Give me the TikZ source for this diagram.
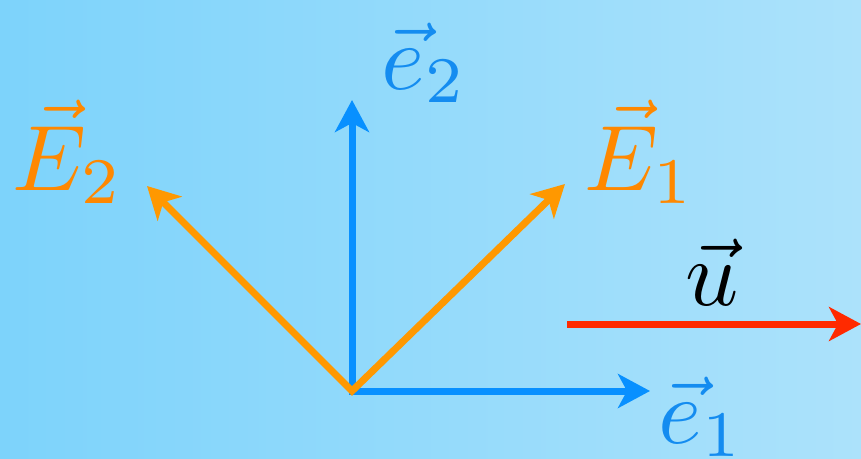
\documentclass[tikz,border=0pt]{standalone}
\usetikzlibrary{arrows.meta}
\definecolor{bgL}{RGB}{125,211,251}
\definecolor{bgR}{RGB}{172,226,251}
\definecolor{eblue}{RGB}{8,144,255}
\definecolor{eorange}{RGB}{255,152,0}
\definecolor{ured}{RGB}{255,42,0}
\definecolor{torange}{RGB}{255,136,0}
\definecolor{tblue}{RGB}{20,140,240}
\tikzset{
  tip/.tip={Stealth[length=32pt,width=34pt,inset=9pt]},
  vec/.style={line width=7pt,-tip},
  vv/.style={line width=7pt,tip-tip,line join=miter},
  lab/.style={anchor=base west,inner sep=0pt,font=\normalsize,scale=9.3}
}
\begin{document}
\begin{tikzpicture}[x=1pt,y=-1pt]
\useasboundingbox (0,0) rectangle (861,458);
\shade[left color=bgL,right color=bgR] (0,0) rectangle (861,458);
\coordinate (O) at (352,391);
\coordinate (e1) at (650,391);
\coordinate (e2) at (352,100);
\coordinate (E1) at (565,184);
\coordinate (E2) at (147,186);
\coordinate (u0) at (567,324);
\coordinate (u1) at (861,324);
\draw[vv,eblue] (e2) -- (O) -- (e1);
\draw[vv,eorange] (E2) -- (O) -- (E1);
\draw[vec,ured] (u0) -- (u1);
\node[lab,text=torange] (lE1) at (583,190) {$\vec{E}_1$};
\node[lab,text=torange] (lE2) at (11,190) {$\vec{E}_2$};
\node[lab,text=tblue] (le2) at (380,89) {$\vec{e}_2$};
\node[lab,text=tblue] (le1) at (657,443) {$\vec{e}_1$};
\node[lab,text=black] (lu) at (684,305) {$\vec{u}$};
\end{tikzpicture}
\end{document}
